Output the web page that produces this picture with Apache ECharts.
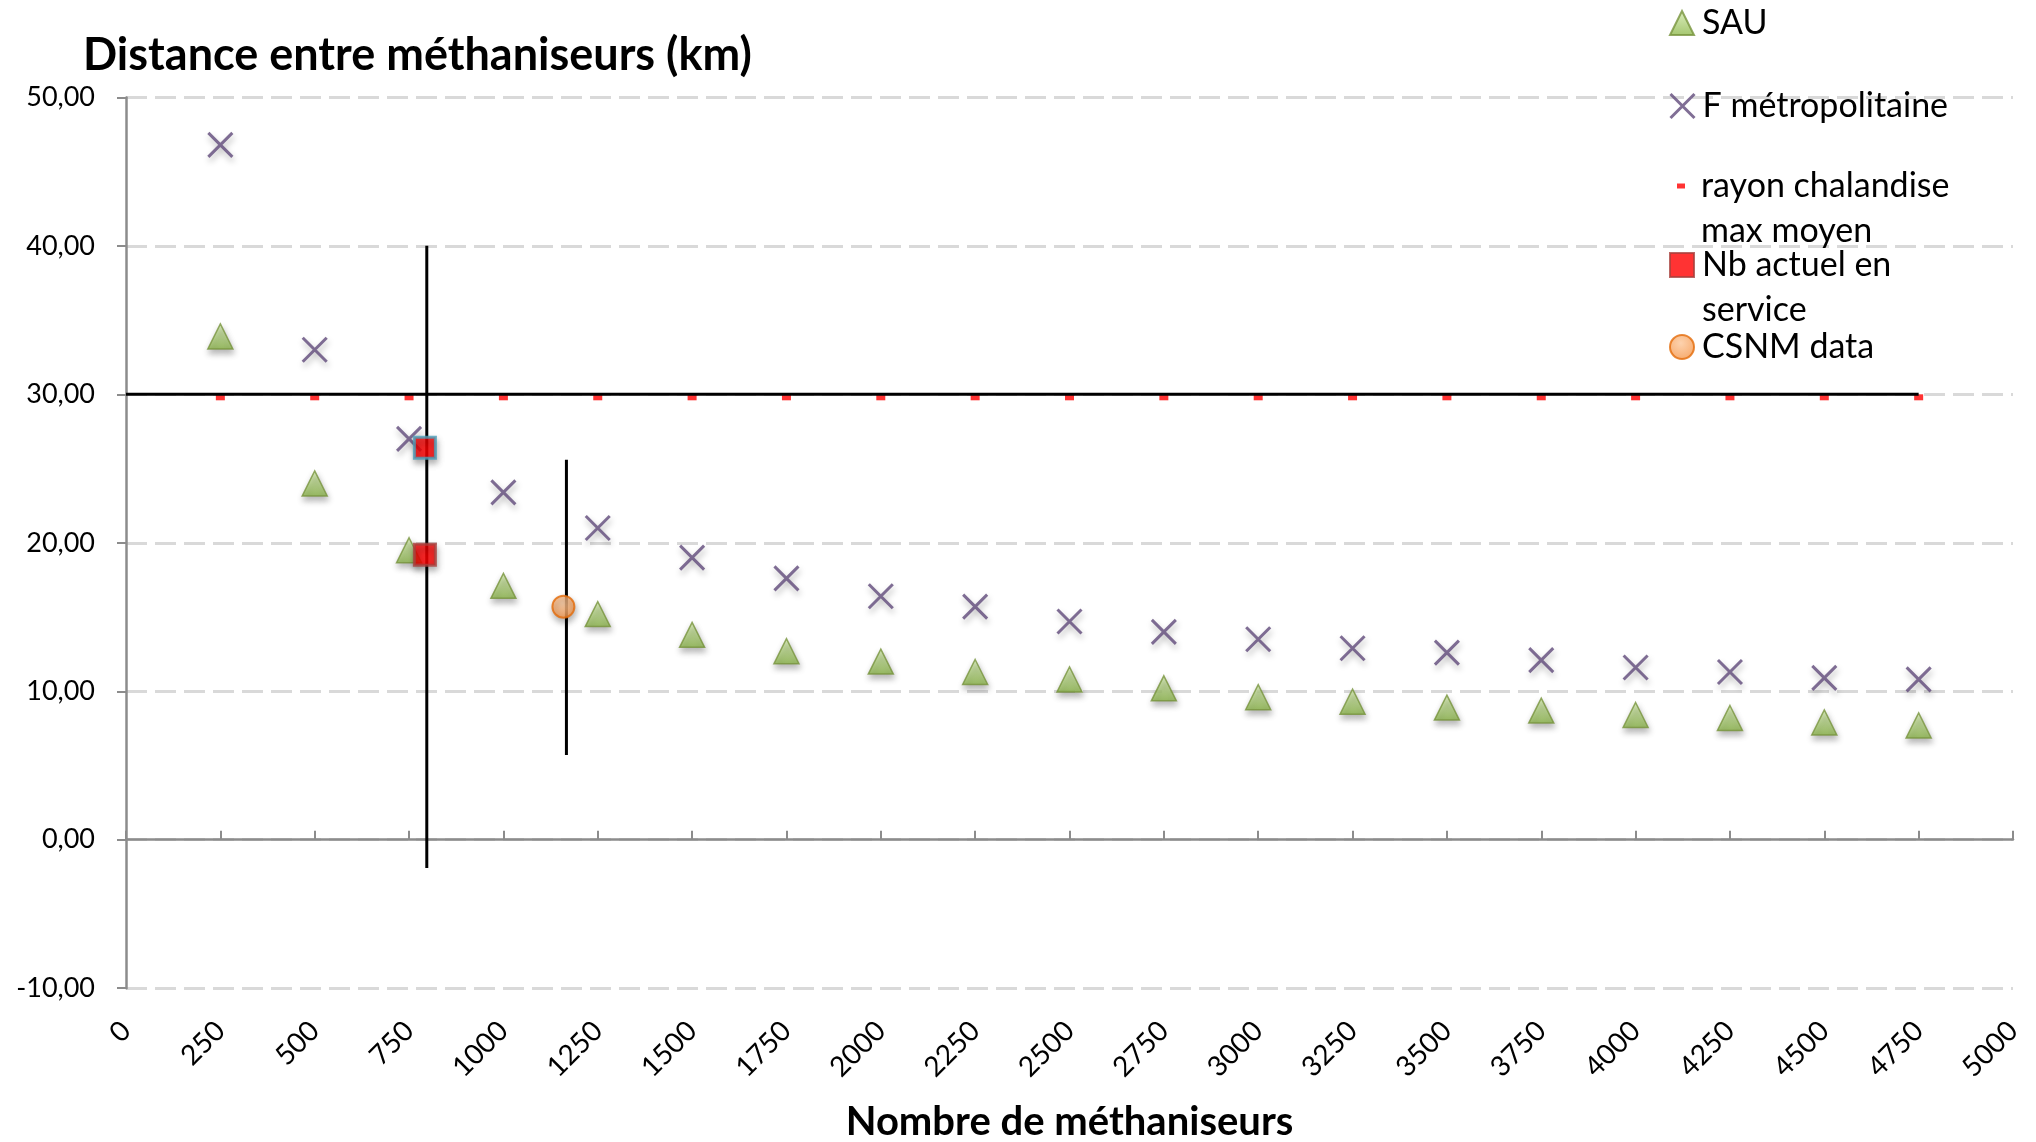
<!DOCTYPE html>
<html><head><meta charset="utf-8">
<script src="https://cdn.jsdelivr.net/npm/echarts@6/dist/echarts.min.js"></script>
<style>html,body{margin:0;padding:0;background:#fff}#c{width:2036px;height:1142px}</style>
</head><body><div id="c"></div>
<script>
// ---- data ----
const ptsX = [250,500,750,1000,1250,1500,1750,2000,2250,2500,2750,3000,3250,3500,3750,4000,4250,4500,4750];
const sauY = [33.9,24.0,19.5,17.1,15.2,13.8,12.7,12.0,11.3,10.8,10.2,9.6,9.3,8.9,8.7,8.4,8.2,7.9,7.7];
const fmetY = [46.8,33.0,27.0,23.4,21.0,19.0,17.6,16.4,15.7,14.7,14.0,13.5,12.9,12.6,12.1,11.6,11.3,10.9,10.8];
const rayonY = [29.8,29.8,29.8,29.8,29.8,29.8,29.8,29.8,29.8,29.8,29.8,29.8,29.8,29.8,29.8,29.8,29.8,29.8,29.8];
const nbX = [792,792];
const nbY = [26.4,19.2];
const csnmX = [1159];
const csnmY = [15.7];
const hLineX = [0,4750];
const hLineY = [30,30];
const vLine1X = [797,797];
const vLine1Y = [40,-1.9];
const vLine2X = [1167,1167];
const vLine2Y = [25.6,5.7];
const names = ['SAU','F métropolitaine','rayon chalandise max moyen','Nb actuel en service','CSNM data'];

const zip = (xs, ys) => xs.map((x, i) => [x, ys[i]]);
const FONT = 'Lato';
const shadow = {shadowBlur: 6, shadowColor: 'rgba(0,0,0,0.35)', shadowOffsetY: 4, shadowOffsetX: 1};
const xIcon = 'path://M0,0L10,10M10,0L0,10';

const chart = echarts.init(document.getElementById('c'), null, {renderer: 'canvas'});

const lineSeries = (data) => ({
  type: 'line', data: data, symbol: 'none', silent: true, z: 1,
  lineStyle: {color: '#000', width: 3}, animation: false
});

const legendBase = {
  orient: 'vertical', padding: 0, itemGap: 0, selectedMode: false,
  itemWidth: 24, itemHeight: 24, left: 1669,
  textStyle: {fontFamily: FONT, fontSize: 34, color: '#000', lineHeight: 45, padding: [0,0,0,3]}
};

const option = {
  animation: false,
  backgroundColor: '#fff',
  title: {
    text: 'Distance entre méthaniseurs (km)', left: 78, top: 28,
    textStyle: {fontFamily: FONT, fontWeight: 'bold', fontSize: 45, color: '#000'}
  },
  legend: [
    Object.assign({}, legendBase, {top: 0.5, data: [{name: names[0], icon: 'triangle'}]}),
    Object.assign({}, legendBase, {top: 83.5, data: [{name: names[1], icon: xIcon,
      itemStyle: {color: 'rgba(0,0,0,0)', borderColor: '#604A7B', borderWidth: 3}}]}),
    Object.assign({}, legendBase, {top: 118.5, left: 1677, itemWidth: 8, itemHeight: 5,
      textStyle: Object.assign({}, legendBase.textStyle, {padding: [0,0,0,11]}),
      formatter: () => '\nrayon chalandise\nmax moyen',
      data: [{name: names[2], icon: 'rect'}]}),
    Object.assign({}, legendBase, {top: 197.5,
      formatter: () => '\nNb actuel en\nservice',
      data: [{name: names[3], icon: 'rect'}]}),
    Object.assign({}, legendBase, {top: 324.5, data: [{name: names[4], icon: 'circle'}]})
  ],
  grid: {left: 126, right: 23, top: 97.4, bottom: 153.8, containLabel: false, outerBoundsMode: 'none'},
  xAxis: [
    {
      type: 'value', min: 0, max: 5000, interval: 250, position: 'bottom',
      axisLine: {show: false, onZero: false}, axisTick: {show: false}, splitLine: {show: false},
      name: 'Nombre de méthaniseurs', nameLocation: 'middle', nameGap: 114,
      nameTextStyle: {fontFamily: FONT, fontWeight: 'bold', fontSize: 40, color: '#000'},
      axisLabel: {rotate: 45, margin: 38, fontFamily: FONT, fontSize: 28, color: '#000',
        formatter: v => String(v)}
    },
    {
      type: 'value', min: 0, max: 5000, interval: 250, position: 'bottom',
      axisLine: {show: true, onZero: true, lineStyle: {color: '#8c8c8c', width: 2.5}},
      axisTick: {show: true, inside: true, length: 9, lineStyle: {color: '#8c8c8c', width: 2}},
      axisLabel: {show: false}, splitLine: {show: false}
    }
  ],
  yAxis: {
    type: 'value', min: -10, max: 50, interval: 10,
    axisLine: {show: true, onZero: false, lineStyle: {color: '#8c8c8c', width: 2.5}},
    axisTick: {show: true, length: 9, lineStyle: {color: '#8c8c8c', width: 2}},
    splitLine: {show: true, lineStyle: {color: '#d9d9d9', width: 3, type: [21, 8]}},
    axisLabel: {margin: 31, fontFamily: FONT, fontSize: 27, color: '#000',
      formatter: v => v.toFixed(2).replace('.', ',')}
  },
  series: [
    lineSeries(zip(vLine1X, vLine1Y)),
    lineSeries(zip(vLine2X, vLine2Y)),
    {
      name: names[2], type: 'scatter', data: zip(ptsX, rayonY), symbol: 'rect', symbolSize: [9, 6], z: 2,
      itemStyle: {color: '#FF0000'}
    },
    Object.assign(lineSeries(zip(hLineX, hLineY)), {z: 3}),
    {
      name: names[0], type: 'scatter', data: zip(ptsX, sauY), symbol: 'triangle', symbolSize: 25, z: 4,
      itemStyle: Object.assign({
        color: new echarts.graphic.LinearGradient(0, 0, 0, 1, [
          {offset: 0, color: '#d4eab0'}, {offset: 1, color: '#8db84a'}]),
        borderColor: '#77933C', borderWidth: 1.5
      }, shadow)
    },
    {
      name: names[1], type: 'scatter', data: zip(ptsX, fmetY), symbol: xIcon, symbolSize: 24, z: 4,
      itemStyle: Object.assign({color: 'rgba(0,0,0,0)', borderColor: '#604A7B', borderWidth: 3}, shadow)
    },
    {
      name: names[3], type: 'scatter', symbol: 'rect', symbolSize: 21, z: 5,
      data: zip(nbX, nbY).map((p, i) => i === 0
        ? {value: p, itemStyle: {borderColor: '#4A9DB8'}} : {value: p}),
      itemStyle: Object.assign({color: '#FF0000', borderColor: '#A8403C', borderWidth: 3}, shadow)
    },
    {
      name: names[4], type: 'scatter', data: zip(csnmX, csnmY), symbol: 'circle', symbolSize: 22, z: 5,
      itemStyle: Object.assign({
        color: new echarts.graphic.RadialGradient(0.45, 0.35, 0.75, [
          {offset: 0, color: '#fcc79a'}, {offset: 1, color: '#f48f3f'}]),
        borderColor: '#E46C0A', borderWidth: 2
      }, shadow)
    }
  ]
};
chart.setOption(option);
</script>
</body></html>
